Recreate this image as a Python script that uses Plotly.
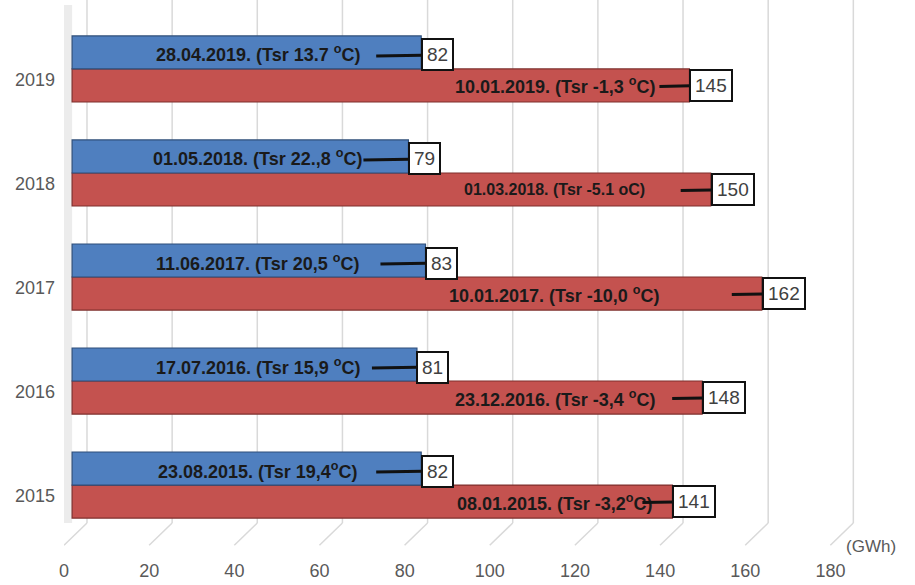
import plotly.graph_objects as go

years = ["2015", "2016", "2017", "2018", "2019"]
summer_vals = [82, 81, 83, 79, 82]
winter_vals = [141, 148, 162, 150, 145]
summer_labels = [
    "23.08.2015. (Tsr 19,4<sup>o</sup>C)",
    "17.07.2016. (Tsr 15,9 <sup>o</sup>C)",
    "11.06.2017. (Tsr 20,5 <sup>o</sup>C)",
    "01.05.2018. (Tsr 22.,8 <sup>o</sup>C)",
    "28.04.2019. (Tsr 13.7 <sup>o</sup>C)",
]
winter_labels = [
    "08.01.2015. (Tsr -3,2<sup>o</sup>C)",
    "23.12.2016. (Tsr -3,4 <sup>o</sup>C)",
    "10.01.2017. (Tsr -10,0 <sup>o</sup>C)",
    "01.03.2018. (Tsr -5.1 oC)",
    "10.01.2019. (Tsr -1,3 <sup>o</sup>C)",
]
x_ticks = [0, 20, 40, 60, 80, 100, 120, 140, 160, 180]
unit_label = "(GWh)"

FONT = "Liberation Sans, Arial, sans-serif"
GREY = "#595959"

fig = go.Figure()
fig.add_trace(go.Bar(
    y=years, x=winter_vals, orientation="h", name="winter",
    marker=dict(color="#c4524f", line=dict(color="#7f2f2d", width=1.2)),
    hoverinfo="x",
))
fig.add_trace(go.Bar(
    y=years, x=summer_vals, orientation="h", name="summer",
    marker=dict(color="#4f7fbf", line=dict(color="#2f4f7a", width=1.2)),
    hoverinfo="x",
))

shapes = []
# left wall
shapes.append(dict(type="rect", xref="x", yref="paper", x0=-1.9, x1=0, y0=0, y1=1.0,
                   fillcolor="rgba(200,200,200,0.35)", line=dict(width=0), layer="below"))
for v in x_ticks:
    shapes.append(dict(type="line", xref="x", yref="paper", x0=v + 3.5, x1=v + 3.5,
                       y0=0, y1=1.01, line=dict(color="#d9d9d9", width=1.5), layer="below"))
    shapes.append(dict(type="line", xref="x", yref="paper", x0=v - 1.9, x1=v + 3.5,
                       y0=-0.043, y1=0, line=dict(color="#d9d9d9", width=1.5), layer="below"))

annotations = []
for i, (v, t) in enumerate(zip(summer_vals, summer_labels)):
    annotations.append(dict(x=43.7, y=i, yshift=15, text=t, showarrow=False,
                            font=dict(family=FONT, size=18, weight="bold", color="#1a1a1a")))
    annotations.append(dict(x=v, y=i, yshift=13, xshift=-45, text=str(v), showarrow=True,
                            ax=61, ay=-1, arrowhead=0, arrowwidth=3, arrowcolor="#111111",
                            bgcolor="white", bordercolor="#111111", borderwidth=2, borderpad=4,
                            font=dict(family=FONT, size=19, color="#404040")))
for i, (v, t) in enumerate(zip(winter_vals, winter_labels)):
    sz = 16 if t.endswith("oC)") else 18
    annotations.append(dict(x=113.4, y=i, yshift=-17, text=t, showarrow=False,
                            font=dict(family=FONT, size=sz, weight="bold", color="#1a1a1a")))
    annotations.append(dict(x=v, y=i, yshift=-17.5, xshift=-30, text=str(v), showarrow=True,
                            ax=52, ay=-1, arrowhead=0, arrowwidth=3, arrowcolor="#111111",
                            bgcolor="white", bordercolor="#111111", borderwidth=2, borderpad=4,
                            font=dict(family=FONT, size=19, color="#404040")))
annotations.append(dict(x=1.0, xref="paper", xanchor="right", xshift=17, y=-0.045, yref="paper",
                        yanchor="middle", text=unit_label, showarrow=False,
                        font=dict(family=FONT, size=17, color=GREY)))

fig.update_layout(
    width=915, height=585,
    margin=dict(l=64, r=34, t=5, b=62),
    paper_bgcolor="white", plot_bgcolor="white",
    barmode="group", bargap=0.365, bargroupgap=0,
    showlegend=False,
    shapes=shapes, annotations=annotations,
    xaxis=dict(range=[-1.9, 190], tickvals=x_ticks, showgrid=False, zeroline=False,
               showline=False, ticks="", ticklabelstandoff=35, ticklabelshift=-8,
               tickfont=dict(family=FONT, size=18, color=GREY)),
    yaxis=dict(type="category", categoryorder="array", categoryarray=years,
               range=[-0.365, 4.615], showgrid=False, zeroline=False, showline=False,
               ticks="", ticklabelstandoff=8, ticklabelshift=11,
               tickfont=dict(family=FONT, size=18, color=GREY)),
)

fig.write_html("out.html")
